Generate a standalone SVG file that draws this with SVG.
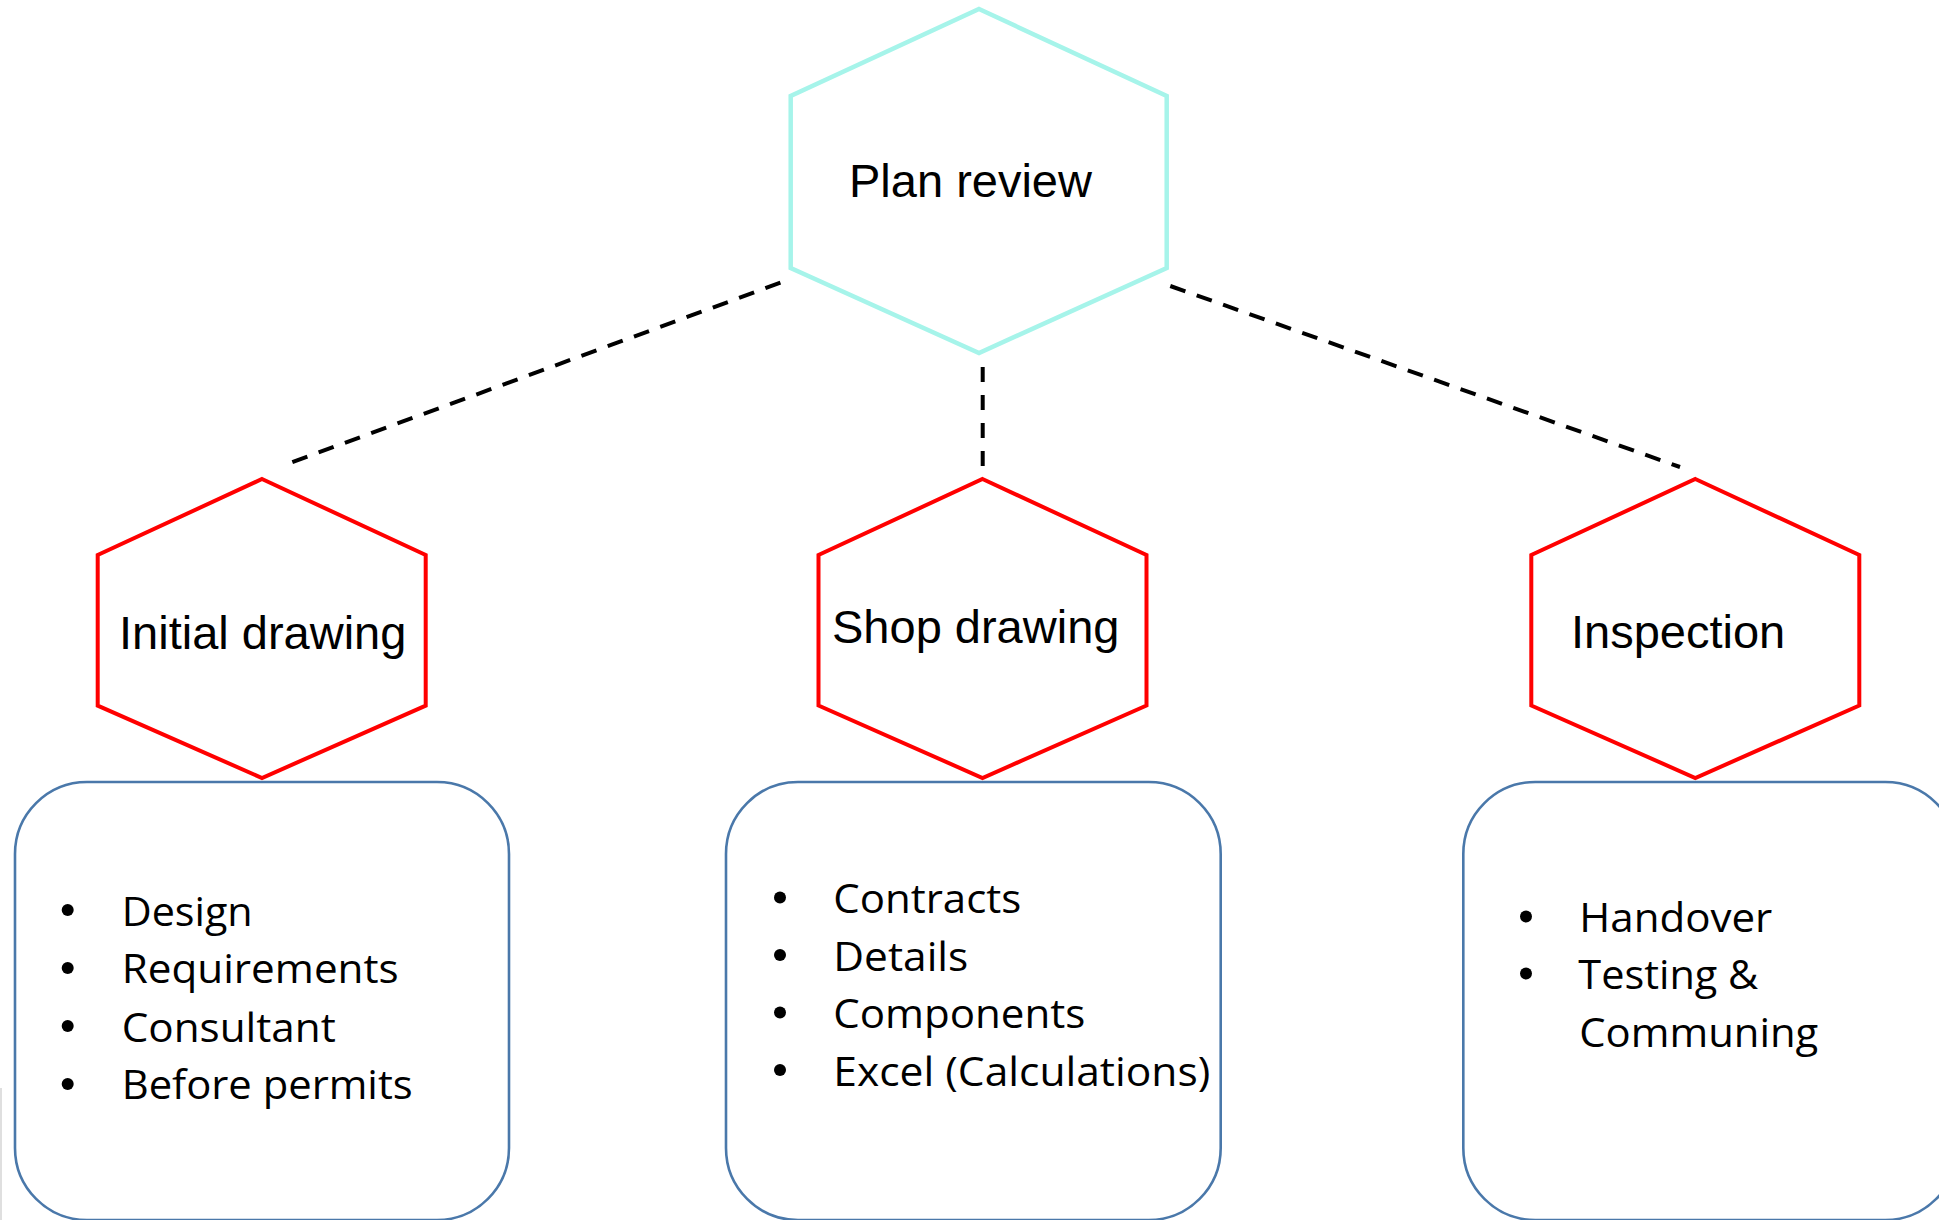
<svg xmlns="http://www.w3.org/2000/svg" width="1939" height="1220" viewBox="0 0 1939 1220">
<style>
.hexroot{fill:#fff;stroke:#A6F4EA;stroke-width:4.5;stroke-linejoin:miter}
.hex{fill:#fff;stroke:#FF0000;stroke-width:4;stroke-linejoin:miter}
.box{fill:#fff;stroke:#4A78AA;stroke-width:2.6}
.title{font-family:"Liberation Sans",Arial,sans-serif;font-size:47px;fill:#000}
.item{font-family:"Open Sans","Noto Sans",sans-serif;font-size:40px;fill:#000}
.dash{fill:none;stroke:#000;stroke-width:4;stroke-dasharray:16 12}
.bullet{fill:#000}
</style>
<rect width="1939" height="1220" fill="#fff"/>
<line x1="1" y1="1088" x2="1" y2="1220" stroke="#d4d4d4" stroke-width="1.5"/>
<g id="connectors">
<line class="dash" x1="780.4" y1="282.7" x2="290" y2="463"/>
<line class="dash" x1="982.7" y1="367" x2="982.7" y2="466" style="stroke-dasharray:15 13"/>
<line class="dash" x1="1170.3" y1="286" x2="1680" y2="467"/>
</g>
<g id="plan-review">
<polygon class="hexroot" points="979,9 1166.7,96 1166.7,268 979,353 790.7,268 790.7,96"/>
<text class="title" x="849" y="197">Plan review</text>
</g>
<g id="initial-drawing-box">
<rect class="box" x="15" y="782" width="494" height="438" rx="72" ry="72"/>
<circle class="bullet" cx="67.7" cy="910" r="6"/>
<circle class="bullet" cx="67.7" cy="968" r="6"/>
<circle class="bullet" cx="67.7" cy="1026" r="6"/>
<circle class="bullet" cx="67.7" cy="1084" r="6"/>
<text class="item" x="121.7" y="925.7" textLength="131" lengthAdjust="spacingAndGlyphs">Design</text>
<text class="item" x="121.7" y="983.3" textLength="277" lengthAdjust="spacingAndGlyphs">Requirements</text>
<text class="item" x="121.7" y="1041.7" textLength="214" lengthAdjust="spacingAndGlyphs">Consultant</text>
<text class="item" x="121.7" y="1099.3" textLength="291" lengthAdjust="spacingAndGlyphs">Before permits</text>
</g>
<g id="shop-drawing-box">
<rect class="box" x="726" y="782" width="494.7" height="438" rx="72" ry="72"/>
<circle class="bullet" cx="780" cy="897.6" r="6"/>
<circle class="bullet" cx="780" cy="955" r="6"/>
<circle class="bullet" cx="780" cy="1012.6" r="6"/>
<circle class="bullet" cx="780" cy="1070" r="6"/>
<text class="item" x="833.3" y="913.3" textLength="188" lengthAdjust="spacingAndGlyphs">Contracts</text>
<text class="item" x="833.3" y="970.7" textLength="135" lengthAdjust="spacingAndGlyphs">Details</text>
<text class="item" x="833.3" y="1028.3" textLength="252" lengthAdjust="spacingAndGlyphs">Components</text>
<text class="item" x="833.3" y="1085.7" textLength="377" lengthAdjust="spacingAndGlyphs">Excel (Calculations)</text>
</g>
<g id="inspection-box">
<rect class="box" x="1463.3" y="782" width="494" height="438" rx="72" ry="72"/>
<circle class="bullet" cx="1526" cy="916.6" r="6"/>
<circle class="bullet" cx="1526" cy="973.6" r="6"/>
<text class="item" x="1579.3" y="932.3" textLength="193" lengthAdjust="spacingAndGlyphs">Handover</text>
<text class="item" x="1578.3" y="989.3" textLength="180" lengthAdjust="spacingAndGlyphs">Testing &amp;</text>
<text class="item" x="1579.3" y="1046.7" textLength="239" lengthAdjust="spacingAndGlyphs">Communing</text>
</g>
<g id="initial-drawing">
<polygon class="hex" points="262,479 425.7,555 425.7,705.7 262,778 97.7,705.7 97.7,555"/>
<text class="title" x="119" y="649">Initial drawing</text>
</g>
<g id="shop-drawing">
<polygon class="hex" points="982.5,479 1146.5,555 1146.5,705.5 982.5,778 818.5,705.5 818.5,555"/>
<text class="title" x="832" y="643.3">Shop drawing</text>
</g>
<g id="inspection">
<polygon class="hex" points="1695.3,479 1859.3,555 1859.3,705.5 1695.3,778 1531.3,705.5 1531.3,555"/>
<text class="title" x="1571" y="648">Inspection</text>
</g>
</svg>
